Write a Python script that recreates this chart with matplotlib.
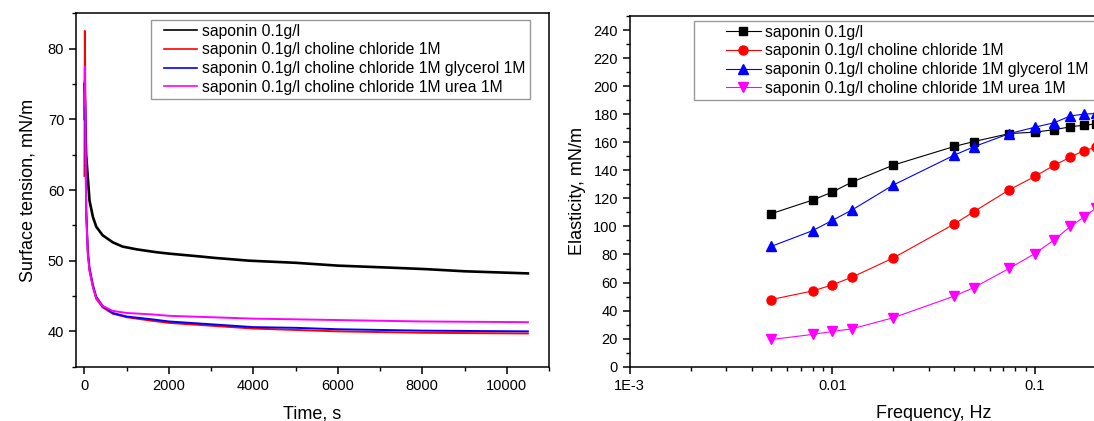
import matplotlib.pyplot as plt
from matplotlib.legend_handler import HandlerLine2D
from matplotlib.lines import Line2D
from matplotlib.ticker import MultipleLocator, FixedLocator, FixedFormatter, LogLocator, NullFormatter

plt.rcParams['font.family'] = ['Liberation Sans', 'DejaVu Sans']
plt.rcParams['font.size'] = 10.5

# Tensión superficial vs tiempo
t_negro = [0, 40, 120, 200, 280, 430, 670, 900, 1240, 1700, 2000, 2730, 3070, 3900, 5000, 6000, 7300, 8100, 9000, 10500]
st_negro = [75, 65, 58.5, 56.2, 54.8, 53.6, 52.6, 52.0, 51.6, 51.2, 51.0, 50.6, 50.4, 50.0, 49.7, 49.3, 49.0, 48.8, 48.5, 48.2]

t_col = [0, 10, 40, 80, 120, 200, 280, 430, 670, 1000, 1600, 2000, 3000, 4000, 5000, 6000, 8000, 10500]
st_rojo = [62, 82.5, 57, 51, 48.6, 46.3, 44.6, 43.4, 42.5, 42.0, 41.5, 41.2, 40.8, 40.4, 40.2, 40.0, 39.8, 39.7]
st_azul = [70, 75.5, 57.5, 51.5, 49.0, 46.6, 44.9, 43.6, 42.6, 42.1, 41.7, 41.4, 41.0, 40.6, 40.5, 40.3, 40.1, 40.0]
st_mag = [72, 77.5, 57, 51, 48.6, 46.3, 44.7, 43.6, 42.9, 42.6, 42.4, 42.2, 42.0, 41.8, 41.7, 41.6, 41.4, 41.3]

# Elasticidad vs frecuencia
frecuencia = [0.005, 0.008, 0.01, 0.0125, 0.02, 0.04, 0.05, 0.075, 0.1, 0.125, 0.15, 0.175, 0.2]
el_negro = [109.1, 118.8, 124.5, 131.6, 143.7, 157.0, 160.5, 166.2, 167.2, 169.0, 171.0, 172.2, 173.0]
el_rojo = [47.9, 54.0, 58.3, 63.8, 77.5, 101.7, 110.5, 126.2, 135.6, 143.7, 149.4, 154.1, 156.3]
el_azul = [85.8, 97.0, 104.3, 111.7, 129.5, 150.8, 156.8, 166.2, 170.7, 174.0, 178.8, 180.0, 180.5]
el_mag = [19.4, 23.0, 25.1, 27.0, 34.9, 50.3, 56.4, 70.2, 80.6, 90.6, 100.0, 106.7, 113.0]

etiquetas = ['saponin 0.1g/l',
             'saponin 0.1g/l choline chloride 1M',
             'saponin 0.1g/l choline chloride 1M glycerol 1M',
             'saponin 0.1g/l choline chloride 1M urea 1M']
colores = ['black', '#ff0000', '#0000ff', '#ff00ff']


class HandlerDesplazado(HandlerLine2D):
    # dibuja la muestra de la leyenda empezando más a la derecha
    def __init__(self, desp, **kw):
        super().__init__(**kw)
        self.desp = desp

    def create_artists(self, legend, orig_handle, xdescent, ydescent, width, height, fontsize, trans):
        d = self.desp * fontsize
        return super().create_artists(legend, orig_handle, xdescent - d, ydescent,
                                      width - d, height, fontsize, trans)


fig = plt.figure(figsize=(10.94, 4.21), dpi=100)
ax1 = fig.add_axes([76 / 1094, 54.3 / 421, 473 / 1094, 353.4 / 421])
ax2 = fig.add_axes([629.8 / 1094, 54.3 / 421, 607.5 / 1094, 350.7 / 421])

# Panel izquierdo
ax1.plot(t_negro, st_negro, color=colores[0], lw=1.9, label=etiquetas[0])
ax1.plot(t_col, st_rojo, color=colores[1], lw=1.4, label=etiquetas[1])
ax1.plot(t_col, st_azul, color=colores[2], lw=1.4, label=etiquetas[2])
ax1.plot(t_col, st_mag, color=colores[3], lw=1.4, label=etiquetas[3])
ax1.set_xlim(-200, 11000)
ax1.set_ylim(35, 85)
ax1.xaxis.set_major_locator(MultipleLocator(2000))
ax1.xaxis.set_minor_locator(MultipleLocator(1000))
ax1.yaxis.set_major_locator(MultipleLocator(10))
ax1.yaxis.set_minor_locator(MultipleLocator(5))
ax1.set_xlabel('Time, s', fontsize=13, labelpad=9)
ax1.set_ylabel('Surface tension, mN/m', fontsize=13, labelpad=8)
h1 = [Line2D([], [], color=c, lw=1.2) for c in colores]
ley1 = ax1.legend(h1, etiquetas, loc='upper left', bbox_to_anchor=(0.1586, 0.982), borderaxespad=0,
                  fancybox=False, edgecolor='#808080', fontsize=11.3, handlelength=2.7,
                  handletextpad=0.32, labelspacing=0.24, borderpad=0.25,
                  handler_map={Line2D: HandlerDesplazado(0.55)})
ley1.get_frame().set_linewidth(1.0)

# Panel derecho
marcadores = ['s', 'o', '^', 'v']
series = [el_negro, el_rojo, el_azul, el_mag]
tamanos = [6, 6.5, 7, 7]
for serie, c, m, tm, lab in zip(series, colores, marcadores, tamanos, etiquetas):
    ax2.plot(frecuencia, serie, color=c, lw=0.8, marker=m, markersize=tm,
             markeredgecolor=c, label=lab, clip_on=False)
ax2.set_xscale('log')
ax2.set_xlim(1e-3, 1)
ax2.set_ylim(0, 250)
ax2.xaxis.set_major_locator(FixedLocator([1e-3, 1e-2, 1e-1]))
ax2.xaxis.set_major_formatter(FixedFormatter(['1E-3', '0.01', '0.1']))
ax2.xaxis.set_minor_locator(LogLocator(base=10, subs=range(2, 10)))
ax2.xaxis.set_minor_formatter(NullFormatter())
ax2.yaxis.set_major_locator(MultipleLocator(20))
ax2.yaxis.set_minor_locator(MultipleLocator(10))
ax2.set_xlabel('Frequency, Hz', fontsize=13, labelpad=9)
ax2.set_ylabel('Elasticity, mN/m', fontsize=13, labelpad=5)
ley2 = ax2.legend(loc='upper left', bbox_to_anchor=(0.1055, 0.0, 0.8, 0.9866), mode='expand',
                  borderaxespad=0, fancybox=False, edgecolor='#808080', fontsize=11.3,
                  handlelength=4.0, handletextpad=0.28, labelspacing=0.24, borderpad=0.25,
                  handler_map={Line2D: HandlerDesplazado(1.79)})
ley2.get_frame().set_linewidth(1.0)

for ax in (ax1, ax2):
    for s in ax.spines.values():
        s.set_linewidth(1.1)
    ax.tick_params(which='major', direction='out', length=5, width=1.1, labelsize=10.5, top=False, right=False)
    ax.tick_params(which='minor', direction='out', length=3, width=1.0, top=False, right=False)

fig.savefig('out.png', dpi=100)
